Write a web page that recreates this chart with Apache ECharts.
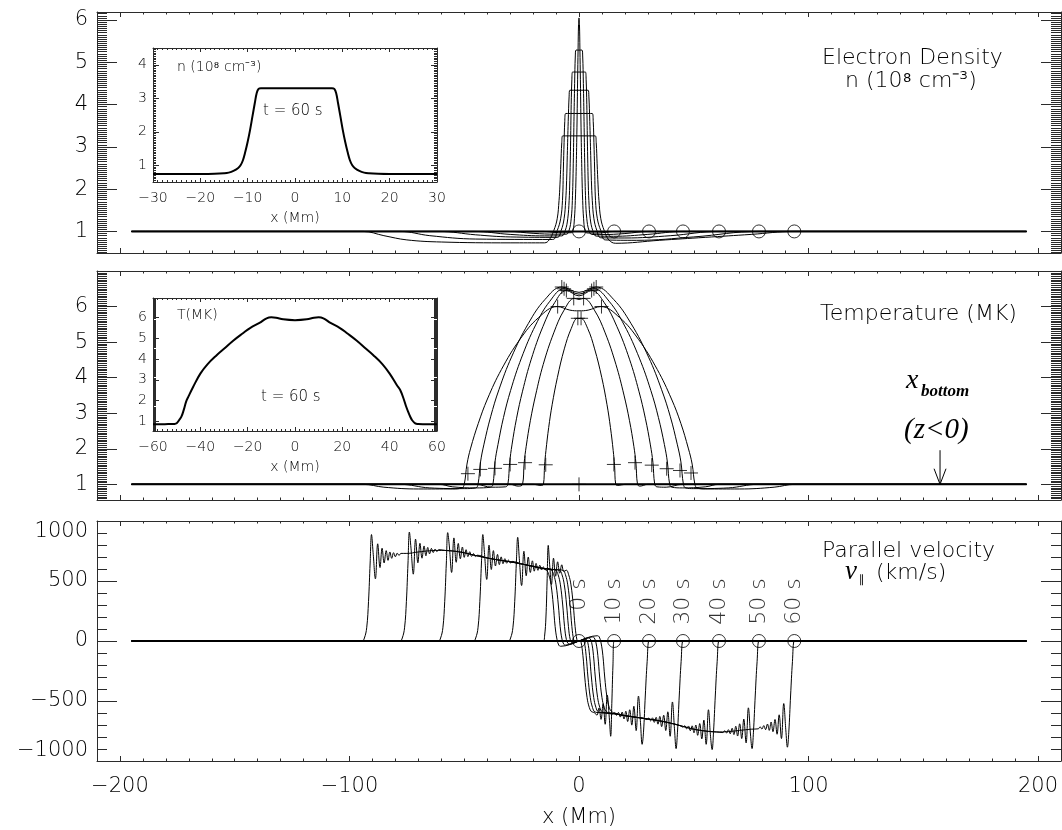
<!DOCTYPE html>
<html>
<head>
<meta charset="utf-8">
<script src="https://cdn.jsdelivr.net/npm/echarts@6/dist/echarts.min.js"></script>
<style>
  html, body { margin: 0; padding: 0; background: #fff; }
  #chart { width: 1062px; height: 830px; }
</style>
</head>
<body>
<div id="chart"></div>
<script>
// ---------------------------------------------------------------------------
// Snapshot times (s) and the position of the front at each time (Mm)
// ---------------------------------------------------------------------------
const times = [0, 10, 20, 30, 40, 50, 60];
const frontX = [0, 15.3, 30.5, 45.3, 61.0, 78.4, 93.8];

// Electron density n (1e8 cm^-3) versus x (Mm), one profile per snapshot
const density0 = [[-195,1],[195,1]];
const density10 = [[-195,1],[-15.6,1],[-10,0.975],[-6,0.968],[-3.4,0.97],[-2.6,1.02],[-2.0,1.3],[-1.6,1.73],[-1.3,2.3],[-1.0,3.1],[-0.8,3.8],[-0.6,4.6],[-0.4,5.3],[-0.2,5.9],[0,6.05],[0.2,5.9],[0.4,5.3],[0.6,4.6],[0.8,3.8],[1.0,3.1],[1.3,2.3],[1.6,1.73],[2.0,1.3],[2.6,1.02],[3.4,0.965],[8,0.96],[15.3,1],[195,1]];
const density20 = [[-195,1],[-31,1],[-20,0.955],[-10,0.935],[-5.5,0.935],[-4.3,1.03],[-3.4,1.3],[-2.9,1.73],[-2.5,2.6],[-2.2,3.6],[-1.9,4.5],[-1.6,5.15],[-1.3,5.29],[1.3,5.29],[1.6,5.15],[1.9,4.5],[2.2,3.6],[2.5,2.6],[2.9,1.73],[3.4,1.3],[4.3,1.03],[5.5,0.93],[10,0.925],[20,0.95],[30.5,1],[195,1]];
const density30 = [[-195,1],[-46,1],[-30,0.93],[-15,0.895],[-7.5,0.895],[-6.0,1.02],[-4.9,1.3],[-4.3,1.73],[-4.0,2.2],[-3.7,3.0],[-3.4,4.0],[-3.1,4.6],[-2.8,4.77],[2.8,4.77],[3.1,4.6],[3.4,4.0],[3.7,3.0],[4.0,2.2],[4.3,1.73],[4.9,1.3],[6.0,1.02],[7.5,0.89],[15,0.885],[30,0.93],[45.3,1],[195,1]];
const density40 = [[-195,1],[-61,1],[-45,0.92],[-30,0.87],[-9.5,0.86],[-7.8,1.02],[-6.5,1.3],[-5.8,1.73],[-5.4,2.2],[-5.1,2.8],[-4.7,3.6],[-4.3,4.2],[-4.0,4.34],[4.0,4.34],[4.3,4.2],[4.7,3.6],[5.1,2.8],[5.4,2.2],[5.8,1.73],[6.5,1.3],[7.8,1.02],[9.5,0.85],[20,0.845],[40,0.9],[61,1],[195,1]];
const density50 = [[-195,1],[-78,1],[-65,0.9],[-45,0.82],[-11.5,0.81],[-9.5,1.02],[-8.0,1.3],[-7.2,1.73],[-6.8,2.5],[-6.5,3.1],[-6.2,3.6],[-5.8,3.79],[5.8,3.79],[6.2,3.6],[6.5,3.1],[6.8,2.5],[7.2,1.73],[8.0,1.3],[9.5,1.02],[11.5,0.8],[25,0.79],[50,0.87],[78.4,1],[195,1]];
const density60 = [[-195,1],[-94,1],[-85,0.9],[-75,0.8],[-60,0.75],[-30,0.73],[-15,0.73],[-13,0.8],[-11,1.02],[-9.5,1.3],[-8.7,1.73],[-8.3,2.1],[-7.9,2.6],[-7.5,3.1],[-7.1,3.26],[7.1,3.26],[7.5,3.1],[7.9,2.6],[8.3,2.1],[8.7,1.73],[9.5,1.3],[11,1.02],[13,0.8],[16,0.72],[35,0.79],[55,0.86],[75,0.93],[93.8,1],[195,1]];

// Temperature T (MK) versus x (Mm)
const temp0 = [[-195,1],[195,1]];
const temp10 = [[-195,1],[-20,1],[-16.5,0.97],[-15.5,1.0],[-15.0,1.53],[-14.4,1.95],[-13.2,2.6],[-11.7,3.24],[-9.4,4.01],[-6.4,4.81],[-3.4,5.38],[-0.7,5.67],[0,5.66],[0.8,5.67],[3.8,5.38],[6.8,4.81],[9.9,4.01],[12.2,3.24],[13.7,2.6],[14.9,1.95],[15.5,1.53],[16,1.0],[17,0.97],[20,1],[195,1]];
const temp20 = [[-195,1],[-30,1],[-26.5,0.95],[-24.6,1.0],[-23.9,1.6],[-23.0,2.07],[-21.2,2.79],[-18.9,3.51],[-15.6,4.37],[-11.0,5.26],[-6.5,5.9],[-2.0,6.23],[0,6.2],[2.0,6.23],[6.7,5.9],[11.4,5.26],[16.1,4.37],[19.6,3.51],[22.0,2.79],[23.9,2.07],[24.8,1.6],[25.5,1.0],[26.5,0.95],[30,1],[195,1]];
const temp30 = [[-195,1],[-45,1],[-38,0.92],[-32,0.93],[-31,1.0],[-30.2,1.62],[-29.2,2.11],[-27.2,2.86],[-24.6,3.62],[-20.8,4.52],[-15.7,5.44],[-10.6,6.11],[-5.5,6.45],[0,6.3],[5.5,6.45],[11,6.11],[16.5,5.44],[22,4.52],[26.1,3.62],[28.9,2.86],[31.1,2.11],[32.2,1.62],[33,1.0],[34,0.93],[38,0.92],[45,1],[195,1]];
const temp40 = [[-195,1],[-61,1],[-55,0.93],[-45,0.9],[-38.5,0.92],[-37.5,1.0],[-36.6,1.63],[-35.3,2.12],[-32.9,2.88],[-29.8,3.64],[-25.1,4.55],[-18.9,5.48],[-12.7,6.15],[-6.5,6.5],[0,6.35],[6.5,6.5],[13.1,6.15],[19.7,5.48],[26.3,4.55],[31.3,3.64],[34.6,2.88],[37.2,2.12],[38.5,1.63],[39.5,1.0],[40.5,0.92],[45,0.9],[55,0.93],[61,1],[195,1]];
const temp50 = [[-195,1],[-78,1],[-65,0.9],[-50,0.88],[-45,0.9],[-44,1.0],[-42.9,1.63],[-41.4,2.13],[-38.5,2.9],[-34.9,3.66],[-29.4,4.58],[-22.1,5.52],[-14.8,6.2],[-7.5,6.55],[0,6.4],[7.5,6.55],[15.1,6.2],[22.7,5.52],[30.3,4.58],[36,3.66],[39.8,2.9],[42.8,2.13],[44.4,1.63],[45.5,1.0],[46.5,0.9],[50,0.88],[65,0.9],[78,1],[195,1]];
const temp60 = [[-195,1],[-94,1],[-85,0.92],[-70,0.87],[-55,0.87],[-51,0.9],[-50,1.0],[-48.8,1.57],[-47.2,2.02],[-43.9,2.71],[-39.9,3.4],[-33.8,4.23],[-25.7,5.08],[-17.6,5.69],[-9.5,6.0],[-4,5.9],[0,5.88],[4,5.9],[9.5,6.0],[17.7,5.69],[25.9,5.08],[34.1,4.23],[40.3,3.4],[44.4,2.71],[47.6,2.02],[49.3,1.57],[50.5,1.0],[51.5,0.9],[55,0.87],[70,0.87],[85,0.92],[94,1],[195,1]];

// Temperature markers (x, T): foot and peak of each profile
const tempMarks = [
  [-48.4,1.30],[-43,1.42],[-36.6,1.45],[-30,1.56],[-23.5,1.61],[-14.5,1.55],
  [15.2,1.56],[24.4,1.61],[31.7,1.54],[38.2,1.44],[44,1.39],[48.8,1.32],[0,1.0],
  [-0.5,5.67],[0.9,5.67],[-2.3,6.23],[2.0,6.23],[-5.5,6.45],[5.5,6.45],
  [-6.5,6.5],[6.5,6.5],[-7.5,6.55],[7.5,6.55],[-9.3,6.0],[9.8,6.0]
];

// Parallel velocity v (km/s) versus x (Mm)
const vel0 = [[-195,0],[195,0]];
const vel10 = [[-195,0],[-15.6,0],[-15.0,40],[-14.4,200],[-13.9,500],[-13.4,797],[-12.8,640],[-12.0,470],[-11.1,690],[-10.2,540],[-9.3,660],[-8.4,565],[-7.5,635],[-6.6,580],[-5.5,590],[-4.5,552],[-3.5,468],[-2.5,300],[-1.7,120],[-0.9,10],[-0.4,-2],[0,0],[0.4,2],[0.9,-10],[1.7,-120],[2.5,-300],[3.5,-470],[4.5,-555],[5.5,-590],[6.6,-595],[7.8,-618],[8.7,-558],[9.6,-653],[10.5,-523],[11.4,-694],[12.3,-450],[13.2,-640],[13.8,-794],[14.3,-520],[14.8,-200],[15.3,0],[16.1,0],[195,0]];
const vel20 = [[-195,0],[-30.8,0],[-29.8,25],[-28.8,110],[-28.0,330],[-27.3,650],[-26.7,864],[-26.0,686],[-25.0,462],[-24.0,748],[-23.0,544],[-22.1,700],[-21.2,571],[-20.3,668],[-19.5,582],[-18.7,647],[-17.9,589],[-17.1,631],[-16.3,592],[-15.5,617],[-14.7,593],[-13.9,606],[-12,597],[-8.9,594],[-6.9,588],[-5.9,552],[-4.9,468],[-3.9,300],[-3.1,120],[-2.3,8],[-1.7,-8],[0,0],[1.7,8],[2.3,-8],[3.1,-120],[3.9,-300],[4.9,-470],[5.9,-555],[6.9,-590],[8.9,-597],[12,-600],[14.8,-610],[15.6,-597],[16.4,-620],[17.2,-595],[18.0,-634],[18.8,-592],[19.6,-650],[20.4,-585],[21.2,-671],[22.1,-573],[23.0,-701],[23.9,-544],[24.9,-747],[25.9,-459],[26.8,-681],[27.5,-861],[28.1,-760],[28.9,-450],[29.7,-170],[30.5,0],[31.3,0],[195,0]];
const vel30 = [[-195,0],[-46.0,0],[-45.0,25],[-44.0,110],[-43.2,330],[-42.5,650],[-41.9,887],[-41.2,737],[-40.2,513],[-39.2,799],[-38.2,596],[-37.3,753],[-36.4,625],[-35.5,722],[-34.7,636],[-33.9,701],[-33.1,644],[-32.3,686],[-31.5,648],[-30.7,674],[-29.9,651],[-29.1,663],[-25,642],[-20,622],[-15,603],[-10.4,594],[-8.4,588],[-7.4,552],[-6.4,468],[-5.4,300],[-4.6,120],[-3.8,10],[-3.0,-15],[-2.4,-14],[0,0],[2.4,14],[3.0,15],[3.8,-10],[4.6,-120],[5.4,-300],[6.4,-470],[7.4,-555],[8.4,-590],[10.4,-598],[15,-605],[20,-622],[25,-636],[28,-644],[29.6,-655],[30.4,-642],[31.2,-666],[32.0,-640],[32.8,-678],[33.6,-636],[34.4,-693],[35.2,-628],[36.0,-714],[36.9,-618],[37.8,-746],[38.7,-590],[39.7,-794],[40.7,-508],[41.6,-732],[42.3,-897],[42.9,-760],[43.7,-450],[44.5,-170],[45.3,0],[46.1,0],[195,0]];
const vel40 = [[-195,0],[-61.3,0],[-60.3,25],[-59.3,110],[-58.5,330],[-57.8,650],[-57.2,903],[-56.5,792],[-55.5,571],[-54.5,859],[-53.5,656],[-52.6,813],[-51.7,685],[-50.8,783],[-50.0,697],[-49.2,761],[-48.4,703],[-47.6,744],[-46.8,705],[-46.0,729],[-45.2,704],[-44.4,715],[-40,692],[-35,675],[-30,660],[-25,642],[-20,622],[-15,603],[-12.1,597],[-10.1,588],[-9.1,552],[-8.1,468],[-7.1,300],[-6.3,120],[-5.5,12],[-4.7,-22],[-3.9,-25],[0,0],[3.9,25],[4.7,22],[5.5,-12],[6.3,-120],[7.1,-300],[8.1,-470],[9.1,-555],[10.1,-590],[12.1,-600],[15,-605],[20,-622],[25,-636],[30,-650],[35,-665],[40,-685],[44,-705],[45.3,-718],[46.1,-706],[46.9,-732],[47.7,-708],[48.5,-748],[49.3,-707],[50.1,-765],[50.9,-700],[51.7,-786],[52.6,-688],[53.5,-816],[54.4,-659],[55.4,-861],[56.4,-573],[57.3,-794],[58.0,-905],[58.6,-760],[59.4,-450],[60.2,-170],[61.0,0],[61.8,0],[195,0]];
const vel50 = [[-195,0],[-78.0,0],[-77.0,25],[-76.0,110],[-75.2,330],[-74.5,650],[-73.9,908],[-73.2,774],[-72.2,557],[-71.2,849],[-70.2,652],[-69.3,814],[-68.4,690],[-67.5,792],[-66.7,710],[-65.9,780],[-65.1,726],[-64.3,772],[-63.5,737],[-62.7,766],[-61.9,745],[-61.1,761],[-58,754],[-55,750],[-50,735],[-45,712],[-40,692],[-35,675],[-30,660],[-25,642],[-20,622],[-15,603],[-14,600],[-12.0,588],[-11.0,552],[-10.0,468],[-9.0,300],[-8.2,120],[-7.4,15],[-6.6,-28],[-5.8,-34],[0,0],[5.8,34],[6.6,28],[7.4,-15],[8.2,-120],[9.0,-300],[10.0,-470],[11.0,-555],[12.0,-590],[14.0,-601],[20,-622],[25,-636],[30,-650],[35,-665],[40,-685],[45,-710],[50,-735],[55,-750],[60,-758],[62.7,-763],[63.5,-747],[64.3,-767],[65.1,-739],[65.9,-773],[66.7,-727],[67.5,-780],[68.3,-710],[69.1,-792],[70.0,-690],[70.9,-813],[71.8,-651],[72.8,-849],[73.8,-557],[74.7,-775],[75.4,-897],[76.0,-760],[76.8,-450],[77.6,-170],[78.4,0],[79.2,0],[195,0]];
const vel60 = [[-195,0],[-94.5,0],[-93.5,25],[-92.5,110],[-91.7,330],[-91.0,650],[-90.4,887],[-89.7,736],[-88.7,518],[-87.7,810],[-86.7,612],[-85.8,773],[-84.9,650],[-84.0,753],[-83.2,672],[-82.4,742],[-81.6,689],[-80.8,736],[-80.0,702],[-79.2,732],[-78.4,713],[-77.6,730],[-75,730],[-70,742],[-65,752],[-60,755],[-55,750],[-50,735],[-45,712],[-40,692],[-35,675],[-30,660],[-25,642],[-20,622],[-16.2,606],[-14.2,590],[-13.2,555],[-12.2,470],[-11.2,300],[-10.4,120],[-9.6,15],[-8.8,-35],[-8.0,-44],[0,0],[8.0,44],[8.8,35],[9.6,-15],[10.4,-120],[11.2,-300],[12.2,-470],[13.2,-555],[14.2,-588],[16.2,-604],[20,-622],[25,-636],[30,-650],[35,-665],[40,-685],[45,-710],[50,-735],[55,-750],[60,-758],[65,-755],[70,-745],[75,-735],[78.1,-732],[78.9,-715],[79.7,-734],[80.5,-705],[81.3,-739],[82.1,-692],[82.9,-745],[83.7,-675],[84.5,-756],[85.4,-654],[86.3,-777],[87.2,-615],[88.2,-813],[89.2,-521],[90.1,-740],[90.8,-885],[91.4,-760],[92.2,-450],[93.0,-170],[93.8,0],[94.6,0],[195,0]];

// Inset profiles at t = 60 s
const insetDensity60 = [[-30,0.74],[-25,0.74],[-20,0.74],[-17,0.745],[-15,0.76],[-14,0.78],[-13,0.83],[-12,0.92],[-11.5,1.0],[-11,1.15],[-10.5,1.4],[-10,1.7],[-9.5,2.05],[-9,2.45],[-8.5,2.85],[-8.1,3.15],[-7.7,3.28],[-7.2,3.3],[0,3.3],[7.8,3.3],[8.3,3.28],[8.7,3.15],[9.1,2.85],[9.6,2.45],[10.1,2.05],[10.6,1.7],[11.1,1.4],[11.6,1.15],[12.1,1.0],[12.6,0.92],[13.6,0.83],[14.6,0.78],[15.6,0.76],[17.6,0.745],[20,0.74],[25,0.74],[30,0.74]];
const insetTemp60 = [[-60,0.85],[-55,0.86],[-51,0.87],[-50,0.9],[-49,1.05],[-48,1.22],[-47,1.55],[-46,1.95],[-45,2.2],[-43,2.67],[-40,3.3],[-37,3.75],[-33,4.2],[-30,4.5],[-26,4.9],[-22,5.25],[-19,5.5],[-15,5.75],[-12,5.97],[-10,6.02],[-8,6.0],[-5,5.92],[0,5.88],[5,5.92],[8,6.0],[10,6.02],[12,5.97],[15,5.75],[19,5.5],[22,5.25],[26,4.9],[30,4.5],[33,4.2],[37,3.75],[40,3.3],[43,2.75],[44.5,2.5],[46,2.05],[47,1.7],[48,1.4],[48.7,1.22],[49.5,1.05],[50.8,0.9],[52,0.87],[55,0.86],[60,0.85]];

// Footpoint arrow (x, T) in the temperature panel
const arrowShaft = [[157.3,1.96],[157.3,1.0]];
const arrowHead = [[154.7,1.44],[157.3,1.0],[159.9,1.44]];

// Axis tick labels
const mainXTicks = [-200, -100, 0, 100, 200];
const densityTicks = [1, 2, 3, 4, 5, 6];
const tempTicks = [1, 2, 3, 4, 5, 6];
const velTicks = [-1000, -500, 0, 500, 1000];
const insetDensXTicks = [-30, -20, -10, 0, 10, 20, 30];
const insetDensYTicks = [1, 2, 3, 4];
const insetTempXTicks = [-60, -40, -20, 0, 20, 40, 60];
const insetTempYTicks = [1, 2, 3, 4, 5, 6];

// ---------------------------------------------------------------------------
// Layout and styling
// ---------------------------------------------------------------------------
const AXIS_COLOR = '#2b2b2b';
const TEXT_COLOR = '#000';
const SANS = '"DejaVu Sans", sans-serif';
const SERIF = '"Liberation Serif", "DejaVu Serif", serif';
const LIGHT = 200;
const TIME_LABEL_V = 522;   // velocity level where the rotated time labels end

const panels = [
  // main panels
  { box: {left: 97, top: 12,  width: 964, height: 241}, x: [-210, 210], y: [0.49, 6.19],
    xMaj: mainXTicks, xStep: 10, yMaj: densityTicks, yStep: 0.05, xLen: [5, 2.5], yLen: [20, 10], xLabels: false },
  { box: {left: 97, top: 271, width: 964, height: 229}, x: [-210, 210], y: [0.56, 7.0],
    xMaj: mainXTicks, xStep: 10, yMaj: tempTicks, yStep: 0.05, xLen: [5, 2.5], yLen: [20, 10], xLabels: false },
  { box: {left: 97, top: 521, width: 964, height: 240}, x: [-210, 210], y: [-1000, 1000],
    xMaj: mainXTicks, xStep: 10, yMaj: velTicks, yStep: 100, xLen: [5, 2.5], yLen: [20, 10], xLabels: true },
  // insets
  { box: {left: 153, top: 48, width: 284, height: 134}, x: [-30, 30], y: [0.5, 4.5],
    xMaj: insetDensXTicks, xStep: 1, yMaj: insetDensYTicks, yStep: 0.05, xLen: [4, 2], yLen: [6, 3], xLabels: true, small: true },
  { box: {left: 153, top: 298, width: 284, height: 133}, x: [-60, 60], y: [0.53, 6.95],
    xMaj: insetTempXTicks, xStep: 2, yMaj: insetTempYTicks, yStep: 0.05, xLen: [4, 2], yLen: [6, 3], xLabels: true, small: true }
];

function stepTicks(range, step) {
  const out = [];
  const k0 = Math.ceil(range[0] / step - 1e-9);
  for (let k = k0; k * step <= range[1] + 1e-9; k++) out.push(+(k * step).toFixed(6));
  return out;
}
const fmt = v => String(v).replace('-', '\u2212');

const grid = [], xAxis = [], yAxis = [];
panels.forEach((p, g) => {
  grid.push(Object.assign({containLabel: false, outerBoundsMode: 'none'}, p.box));
  const fontSize = p.small ? 14 : 21;
  const makeSet = (dim, range, majors, step, lens, withLabels) => {
    const minors = stepTicks(range, step);
    const sides = dim === 'x' ? ['bottom', 'top'] : ['left', 'right'];
    const out = [];
    sides.forEach((side, si) => {
      [[majors, lens[0], true], [minors, lens[1], false]].forEach(([vals, len, major]) => {
        const showLabel = withLabels && si === 0 && major;
        out.push({
          type: 'value', gridIndex: g, position: side, min: range[0], max: range[1],
          axisLine: {show: major, onZero: false, lineStyle: {color: AXIS_COLOR, width: 1}},
          axisTick: {show: true, inside: true, length: len, customValues: vals,
                     lineStyle: {color: AXIS_COLOR, width: 1}},
          axisLabel: showLabel ? {
            show: true, customValues: majors, formatter: fmt, color: TEXT_COLOR,
            fontFamily: SANS, fontWeight: LIGHT, fontSize: fontSize,
            margin: dim === 'x' ? (p.small ? 9 : 15) : (p.small ? 6 : 9),
            showMinLabel: true, showMaxLabel: true,
            verticalAlignMaxLabel: dim === 'y' && g === 2 ? 'top' : undefined,
            verticalAlignMinLabel: dim === 'y' && g === 2 ? 'bottom' : undefined
          } : {show: false},
          splitLine: {show: false},
          minorTick: {show: false},
          silent: true
        });
      });
    });
    return out;
  };
  xAxis.push(...makeSet('x', p.x, p.xMaj, p.xStep, p.xLen, p.xLabels));
  yAxis.push(...makeSet('y', p.y, p.yMaj, p.yStep, p.yLen, true));
});

const lineSeries = (g, data, width, smooth) => ({
  type: 'line', xAxisIndex: 4 * g, yAxisIndex: 4 * g, data: data,
  showSymbol: false, symbol: 'none', smooth: smooth === undefined ? 0.4 : smooth,
  lineStyle: {color: '#000', width: width || 1}, silent: true, animation: false, z: 3
});

const densitySets = [density0, density10, density20, density30, density40, density50, density60];
const tempSets = [temp0, temp10, temp20, temp30, temp40, temp50, temp60];
const velSets = [vel0, vel10, vel20, vel30, vel40, vel50, vel60];

const series = [];
densitySets.forEach((d, i) => series.push(lineSeries(0, d, i === 0 ? 2 : 1)));
tempSets.forEach((d, i) => series.push(lineSeries(1, d, i === 0 ? 2 : 1)));
velSets.forEach((d, i) => series.push(lineSeries(2, d, i === 0 ? 2 : 1)));
series.push(lineSeries(3, insetDensity60, 2));
series.push(lineSeries(4, insetTemp60, 2));

// footpoint arrow
series.push(lineSeries(1, arrowShaft, 1, false));
series.push(lineSeries(1, arrowHead, 1, false));

// front markers: open circles in the density and velocity panels
const circleStyle = {color: 'rgba(0,0,0,0)', borderColor: '#000', borderWidth: 1};
series.push({
  type: 'scatter', xAxisIndex: 0, yAxisIndex: 0, symbol: 'circle', symbolSize: 13,
  data: frontX.map(x => [x, 1]), itemStyle: circleStyle, silent: true, animation: false, z: 4
});
series.push({
  type: 'scatter', xAxisIndex: 8, yAxisIndex: 8, symbol: 'circle', symbolSize: 13,
  data: frontX.map(x => [x, 0]), itemStyle: circleStyle, silent: true, animation: false, z: 4
});
// crosses in the temperature panel
series.push({
  type: 'scatter', xAxisIndex: 4, yAxisIndex: 4, symbol: 'path://M0,-10L0,10M-10,0L10,0', symbolSize: 14,
  data: tempMarks, itemStyle: {color: 'none', borderColor: '#000', borderWidth: 1},
  silent: true, animation: false, z: 4
});
// rotated time labels above each front
series.push({
  type: 'scatter', xAxisIndex: 8, yAxisIndex: 8, symbolSize: 1,
  itemStyle: {color: 'rgba(0,0,0,0)'},
  data: frontX.map((x, i) => ({value: [x, TIME_LABEL_V], name: times[i] + ' s'})),
  label: {show: true, position: 'inside', formatter: '{b}', rotate: 90, align: 'right',
          verticalAlign: 'middle', fontFamily: SANS, fontWeight: LIGHT, fontSize: 22, color: TEXT_COLOR},
  silent: true, animation: false, z: 5
});

// ---------------------------------------------------------------------------
// Panel captions
// ---------------------------------------------------------------------------
function txt(x, y, text, font, align) {
  return {type: 'text', x: x, y: y, silent: true, z: 10,
          style: {text: text, font: font, fill: TEXT_COLOR, align: align || 'left', verticalAlign: 'middle'}};
}
const graphic = [
  txt(822, 58, 'Electron Density', LIGHT + ' 22px ' + SANS),
  txt(845, 81, 'n (10\u2078 cm\u207B\u00B3)', LIGHT + ' 22px ' + SANS),
  txt(820, 314, 'Temperature (MK)', LIGHT + ' 22px ' + SANS),
  txt(906, 381, 'x', 'italic 28px ' + SERIF),
  txt(921, 392, 'bottom', 'italic bold 17px ' + SERIF),
  txt(904, 430, '(z<0)', 'italic 29px ' + SERIF),
  txt(822, 551, 'Parallel velocity', LIGHT + ' 22px ' + SANS),
  txt(845, 572, 'v', 'italic 27px ' + SERIF),
  txt(859, 580, '\u2225', '11px ' + SANS),
  txt(876, 573, '(km/s)', LIGHT + ' 22px ' + SANS),
  txt(579, 818, 'x (Mm)', LIGHT + ' 21px ' + SANS, 'center'),
  // inset captions
  txt(177, 67, 'n (10\u2078 cm\u207B\u00B3)', LIGHT + ' 14px ' + SANS),
  txt(263, 111, 't = 60 s', LIGHT + ' 15px ' + SANS),
  txt(295, 218, 'x (Mm)', LIGHT + ' 14px ' + SANS, 'center'),
  txt(177, 315, 'T(MK)', LIGHT + ' 14px ' + SANS),
  txt(261, 397, 't = 60 s', LIGHT + ' 15px ' + SANS),
  txt(295, 467, 'x (Mm)', LIGHT + ' 14px ' + SANS, 'center')
];

const chart = echarts.init(document.getElementById('chart'), null, {renderer: 'canvas', width: 1062, height: 830});
chart.setOption({
  animation: false,
  backgroundColor: '#fff',
  grid: grid,
  xAxis: xAxis,
  yAxis: yAxis,
  series: series,
  graphic: graphic
});
</script>
</body>
</html>
